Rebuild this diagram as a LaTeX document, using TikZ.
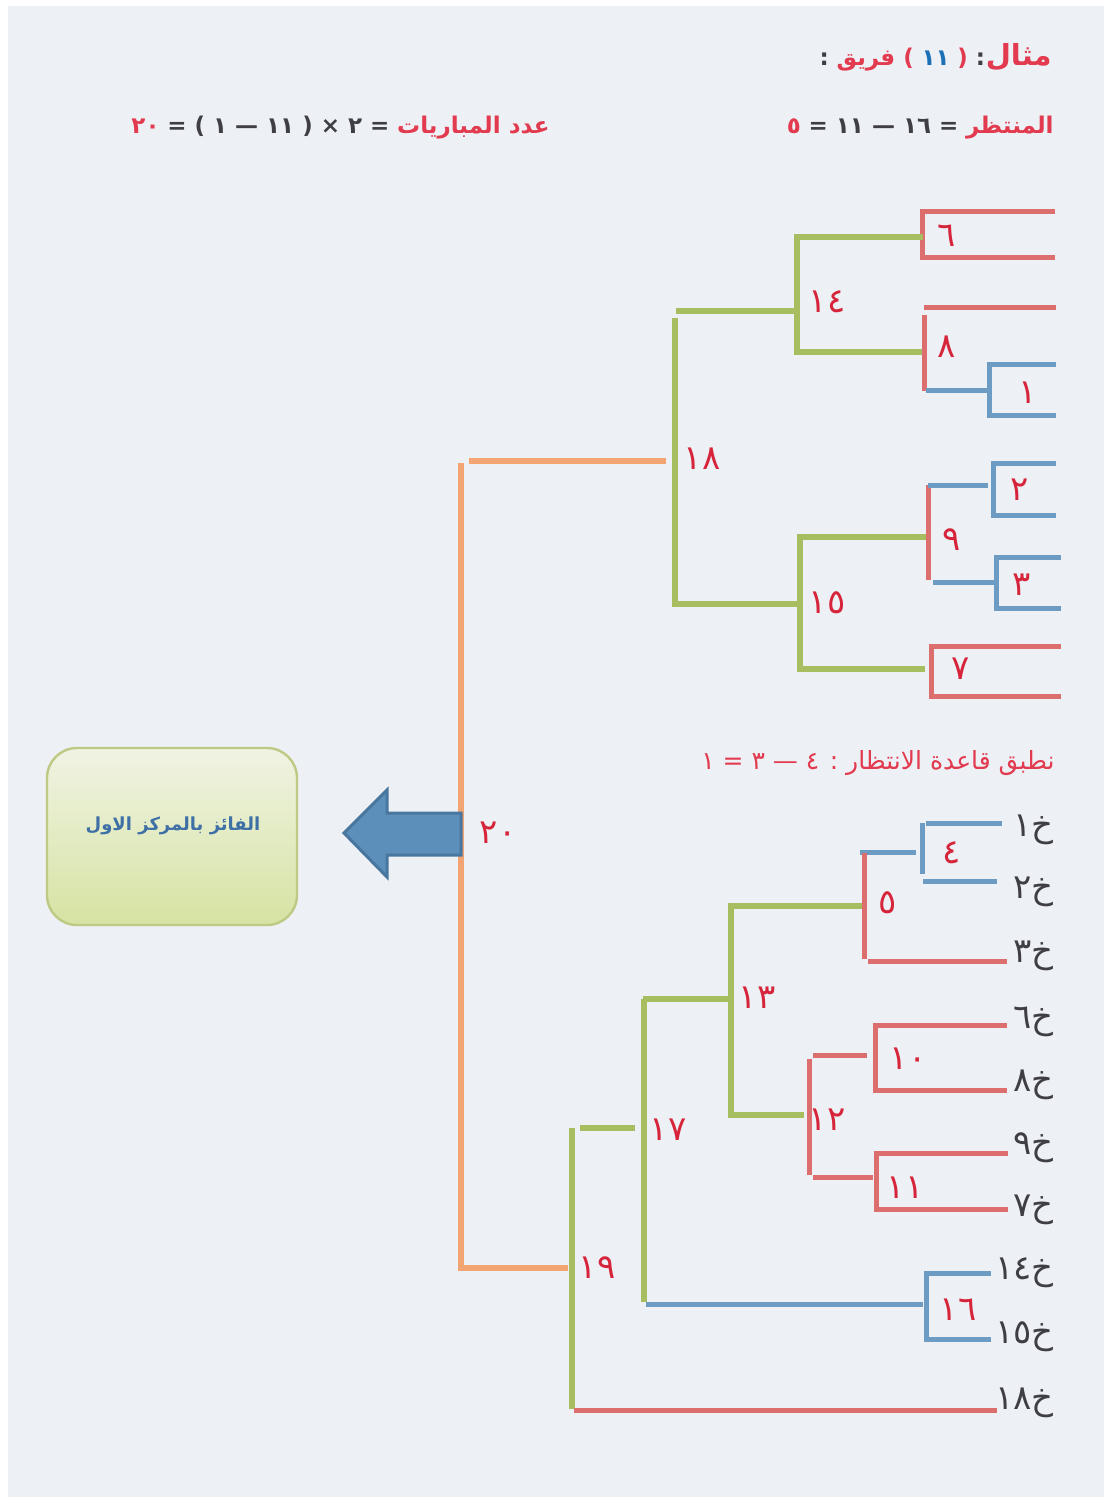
\documentclass[tikz,border=0pt]{standalone}
\usepackage{fontspec}
\newfontfamily\arabicfont[Script=Arabic]{DejaVu Sans}
\TeXXeTstate=1
\newcommand{\rtl}[1]{{\beginR #1\endR}}

\definecolor{paper}{RGB}{237,240,245}
\definecolor{redline}{RGB}{221,110,110}
\definecolor{blueline}{RGB}{108,155,195}
\definecolor{greenline}{RGB}{166,190,96}
\definecolor{orangeline}{RGB}{242,165,115}
\definecolor{labred}{RGB}{214,36,58}
\definecolor{hred}{RGB}{226,58,78}
\definecolor{ink}{RGB}{62,62,68}
\definecolor{nblue}{RGB}{30,112,182}
\definecolor{boxtext}{RGB}{62,112,165}
\definecolor{boxtop}{RGB}{240,243,228}
\definecolor{boxbot}{RGB}{214,227,162}
\definecolor{boxedge}{RGB}{190,202,132}
\definecolor{arrowfill}{RGB}{92,143,186}
\definecolor{arrowedge}{RGB}{72,118,158}

\begin{document}
\begin{tikzpicture}[x=0.5pt,y=-0.5pt,
  rl/.style={draw=redline,line width=2.5pt},
  bl/.style={draw=blueline,line width=2.5pt},
  gl/.style={draw=greenline,line width=2.8pt},
  ol/.style={draw=orangeline,line width=2.8pt},
  lab/.style={text=labred,inner sep=0,font=\arabicfont\fontsize{17}{19}\selectfont},
  kh/.style={anchor=east,text=ink,inner sep=0,font=\arabicfont\fontsize{17}{19}\selectfont},
  hdr/.style={anchor=base east,inner sep=0,font=\arabicfont\bfseries\fontsize{11.5}{14}\selectfont},
  gap/.style={xshift=-3.5pt}]
\useasboundingbox (0,0) rectangle (1110,1502);
\fill[white] (0,0) rectangle (1110,1502);
\fill[paper] (8,6) rectangle (1104,1497);

% ---- heading: example with eleven teams (each coloured piece is its own node, right to left)
\node[hdr,text=hred,font=\arabicfont\bfseries\fontsize{14.5}{17}\selectfont] (ex1) at (1052,66) {\rtl{مثال}};
\node[hdr,text=ink] (ex2) at (ex1.base west) {\rtl{:}};
\node[hdr,text=hred] (ex3) at ([gap]ex2.base west) {\rtl{(}};
\node[hdr,text=nblue] (ex4) at ([gap]ex3.base west) {\rtl{١١}};
\node[hdr,text=hred] (ex5) at ([gap]ex4.base west) {\rtl{) فريق}};
\node[hdr,text=ink] (ex6) at ([gap]ex5.base west) {\rtl{:}};

% ---- heading: teams waiting
\node[hdr,text=hred] (wt1) at (1054,134) {\rtl{المنتظر}};
\node[hdr,text=ink] (wt2) at ([gap]wt1.base west) {\rtl{= ١٦ — ١١ =}};
\node[hdr,text=hred] (wt3) at ([gap]wt2.base west) {\rtl{٥}};

% ---- heading: number of matches
\node[hdr,text=hred] (mt1) at (550,134) {\rtl{عدد المباريات}};
\node[hdr,text=ink] (mt2) at ([gap]mt1.base west) {\rtl{= ٢ × ( ١١ — ١ ) =}};
\node[hdr,text=hred] (mt3) at ([gap]mt2.base west) {\rtl{٢٠}};

\node[anchor=east,inner sep=0,text=hred,font=\arabicfont\fontsize{12.5}{15}\selectfont] (rule) at (1055,763)
  {\rtl{نطبق قاعدة الانتظار : ٤ — ٣ = ١}};

% ---- upper bracket
\draw[rl] (1055,212) -- (922,212) -- (922,258) -- (1055,258);
\draw[gl] (923,237) -- (797,237) -- (797,352) -- (923,352);
\draw[gl] (676,311) -- (795,311);
\draw[rl] (924,308) -- (1056,308);
\draw[rl] (924,315) -- (924,391);
\draw[bl] (926,391) -- (989,391);
\draw[bl] (1056,365) -- (989,365) -- (989,416) -- (1056,416);
\draw[gl] (675,318) -- (675,604) -- (797,604);
\draw[gl] (928,537) -- (800,537) -- (800,669) -- (925,669);
\draw[rl] (928,485) -- (928,580);
\draw[bl] (928,485) -- (988,485);
\draw[bl] (1056,463) -- (993,463) -- (993,515) -- (1056,515);
\draw[bl] (933,582) -- (995,582);
\draw[bl] (1061,557) -- (996,557) -- (996,608) -- (1061,608);
\draw[rl] (1061,646) -- (931,646) -- (931,696) -- (1061,696);

% ---- final and arrow
\draw[ol] (469,461) -- (666,461);
\draw[ol] (461,463) -- (461,1268) -- (568,1268);
\filldraw[fill=arrowfill,draw=arrowedge,line width=1.5pt]
  (344,833) -- (387,790) -- (387,813) -- (461,813) -- (461,855) -- (387,855) -- (387,877) -- cycle;
\node[draw=boxedge,line width=1.2pt,rounded corners=15pt,top color=boxtop,bottom color=boxbot,
  minimum width=125pt,minimum height=88.5pt,inner sep=0] (winbox) at (172,836.5) {};
\node[inner sep=0,text=boxtext,font=\arabicfont\bfseries\fontsize{9}{11}\selectfont] (wintext) at (173,826)
  {\rtl{الفائز بالمركز الاول}};

% ---- lower bracket
\draw[bl] (860,852) -- (916,852);
\draw[bl] (922,823) -- (922,874);
\draw[bl] (926,823) -- (1002,823);
\draw[bl] (923,881) -- (997,881);
\draw[rl] (864,853) -- (864,959);
\draw[rl] (868,961) -- (1007,961);
\draw[gl] (862,906) -- (731,906) -- (731,1115) -- (804,1115);
\draw[gl] (643,999) -- (731,999);
\draw[rl] (1007,1025) -- (875,1025) -- (875,1090) -- (1007,1090);
\draw[rl] (813,1055) -- (867,1055);
\draw[rl] (809,1059) -- (809,1175);
\draw[rl] (813,1177) -- (873,1177);
\draw[rl] (1008,1153) -- (876,1153) -- (876,1209) -- (1008,1209);
\draw[gl] (580,1128) -- (635,1128);
\draw[gl] (644,999) -- (644,1302);
\draw[bl] (646,1304) -- (923,1304);
\draw[bl] (991,1273) -- (926,1273) -- (926,1339) -- (991,1339);
\draw[gl] (572,1128) -- (572,1409);
\draw[rl] (574,1410) -- (997,1410);

% ---- match numbers
\node[lab] (m6) at (947,236) {٦};
\node[lab] (m14) at (827,302) {١٤};
\node[lab] (m8) at (947,347) {٨};
\node[lab] (m1) at (1028,393) {١};
\node[lab] (m18) at (702,459) {١٨};
\node[lab] (m2) at (1020,490) {٢};
\node[lab] (m9) at (952,540) {٩};
\node[lab] (m3) at (1022,585) {٣};
\node[lab] (m15) at (827,603) {١٥};
\node[lab] (m7) at (961,669) {٧};
\node[lab] (m20) at (498,833) {٢٠};
\node[lab] (m4) at (952,853) {٤};
\node[lab] (m5) at (888,903) {٥};
\node[lab] (m13) at (757,998) {١٣};
\node[lab] (m10) at (908,1059) {١٠};
\node[lab] (m12) at (827,1120) {١٢};
\node[lab] (m11) at (905,1188) {١١};
\node[lab] (m17) at (668,1130) {١٧};
\node[lab] (m16) at (958,1310) {١٦};
\node[lab] (m19) at (597,1268) {١٩};

% ---- team labels
\node[kh] (t1) at (1054,830) {خ١};
\node[kh] (t2) at (1054,892) {خ٢};
\node[kh] (t3) at (1054,956) {خ٣};
\node[kh] (t6) at (1054,1022) {خ٦};
\node[kh] (t8) at (1054,1085) {خ٨};
\node[kh] (t9) at (1054,1148) {خ٩};
\node[kh] (t7) at (1054,1210) {خ٧};
\node[kh] (t14) at (1054,1273) {خ١٤};
\node[kh] (t15) at (1054,1337) {خ١٥};
\node[kh] (t18) at (1054,1403) {خ١٨};
\end{tikzpicture}
\end{document}
